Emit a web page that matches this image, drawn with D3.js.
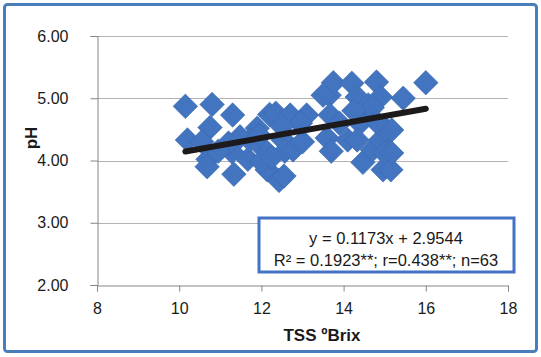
<!DOCTYPE html>
<html><head><meta charset="utf-8">
<script src="https://cdn.jsdelivr.net/npm/d3@7"></script>
<style>body{margin:0;background:#fff}svg{display:block}text{font-family:"Liberation Sans",Arial,sans-serif}</style>
</head><body><div id="chart"></div>
<script>
const tssValues = [10.15,10.80,10.20,10.75,10.70,10.68,10.55,11.30,11.28,11.33,11.67,11.90,11.72,11.48,12.08,12.14,12.20,12.35,12.43,12.00,12.53,12.57,11.20,12.70,13.10,12.95,12.77,12.55,12.50,13.00,13.60,13.65,13.75,13.50,13.67,13.70,14.20,14.33,14.10,14.40,14.40,14.33,14.47,14.60,14.70,14.80,14.90,14.70,14.90,14.96,15.05,15.00,15.17,15.45,16.00,15.15,15.17,14.25,13.90,11.95,12.25,14.80,10.95];
const phValues = [4.87,4.90,4.33,4.53,4.02,3.90,4.30,4.73,4.14,3.78,4.02,4.52,4.33,4.38,4.17,3.85,4.74,4.76,3.68,3.98,4.33,4.15,4.28,4.73,4.73,4.60,4.17,3.75,4.55,4.30,4.36,5.05,5.25,5.05,4.73,4.15,5.24,5.02,4.33,4.76,4.60,4.33,3.97,4.89,4.17,5.26,5.02,4.85,4.33,3.85,4.49,4.12,4.49,5.00,5.25,3.85,4.12,4.80,4.60,4.40,4.05,4.62,4.15];
const xTicks = [8,10,12,14,16,18];
const yTicks = [2,3,4,5,6];
const slope = 0.1173, intercept = 2.9544;
const trendRange = [10.15, 16.0];
const eqLines = ["y = 0.1173x + 2.9544", "R\u00b2 = 0.1923**; r=0.438**; n=63"];
const xTitle = "TSS \u00baBrix", yTitle = "pH";

const W = 541, H = 357;
const svg = d3.select("#chart").append("svg").attr("width", W).attr("height", H);
svg.append("rect").attr("x",4.5).attr("y",4.5).attr("width",532).attr("height",347).attr("rx",3)
  .attr("fill","#fff").attr("stroke","#4a7ebb").attr("stroke-width",3);

const x = d3.scaleLinear().domain([8,18]).range([97,508]);
const y = d3.scaleLinear().domain([2,6]).range([285,36]);

svg.append("g").selectAll("line").data(yTicks.filter(d=>d>2)).join("line")
  .attr("x1",97).attr("x2",508).attr("y1",d=>Math.round(y(d))+0.5).attr("y2",d=>Math.round(y(d))+0.5)
  .attr("stroke","#b3b3b3").attr("stroke-width",1);

const yAxis = svg.append("g").attr("transform","translate(97.5,0)")
  .call(d3.axisLeft(y).tickValues(yTicks).tickFormat(d3.format(".2f")).tickSize(7).tickPadding(22));
const xAxis = svg.append("g").attr("transform","translate(0,285.5)")
  .call(d3.axisBottom(x).tickValues(xTicks).tickSize(6).tickPadding(11));
[yAxis,xAxis].forEach(a=>{
  a.select(".domain").attr("stroke","#868686");
  a.selectAll(".tick line").attr("stroke","#868686");
  a.selectAll("text").attr("fill","#1a1a1a").attr("font-size",16);
});

const pts = tssValues.map((v,i)=>({x:v,y:phValues[i]}));
const sym = d3.symbol().type(d3.symbolSquare).size(300);
svg.append("g").selectAll("path").data(pts).join("path")
  .attr("d",sym).attr("transform",d=>`translate(${x(d.x)},${y(d.y)}) rotate(45)`)
  .attr("fill","#4374c0").attr("stroke","#3b68b0").attr("stroke-width",0.6);

svg.append("line")
  .attr("x1",x(trendRange[0])).attr("y1",y(slope*trendRange[0]+intercept))
  .attr("x2",x(trendRange[1])).attr("y2",y(slope*trendRange[1]+intercept))
  .attr("stroke","#1c1a1a").attr("stroke-width",6).attr("stroke-linecap","round");

svg.append("rect").attr("x",259).attr("y",218).attr("width",255).attr("height",54)
  .attr("fill","#fff").attr("stroke","#4472c4").attr("stroke-width",3);
svg.append("g").selectAll("text").data(eqLines).join("text")
  .attr("x",386).attr("y",(d,i)=>244+i*22).attr("text-anchor","middle")
  .attr("font-size",16.5).attr("fill","#1a1a1a").text(d=>d);

svg.append("text").attr("x",322).attr("y",341).attr("text-anchor","middle")
  .attr("font-size",17).attr("font-weight","bold").attr("fill","#1a1a1a").text(xTitle);
svg.append("text").attr("transform","translate(37,138) rotate(-90)").attr("text-anchor","middle")
  .attr("font-size",17).attr("font-weight","bold").attr("fill","#1a1a1a").text(yTitle);
</script></body></html>
